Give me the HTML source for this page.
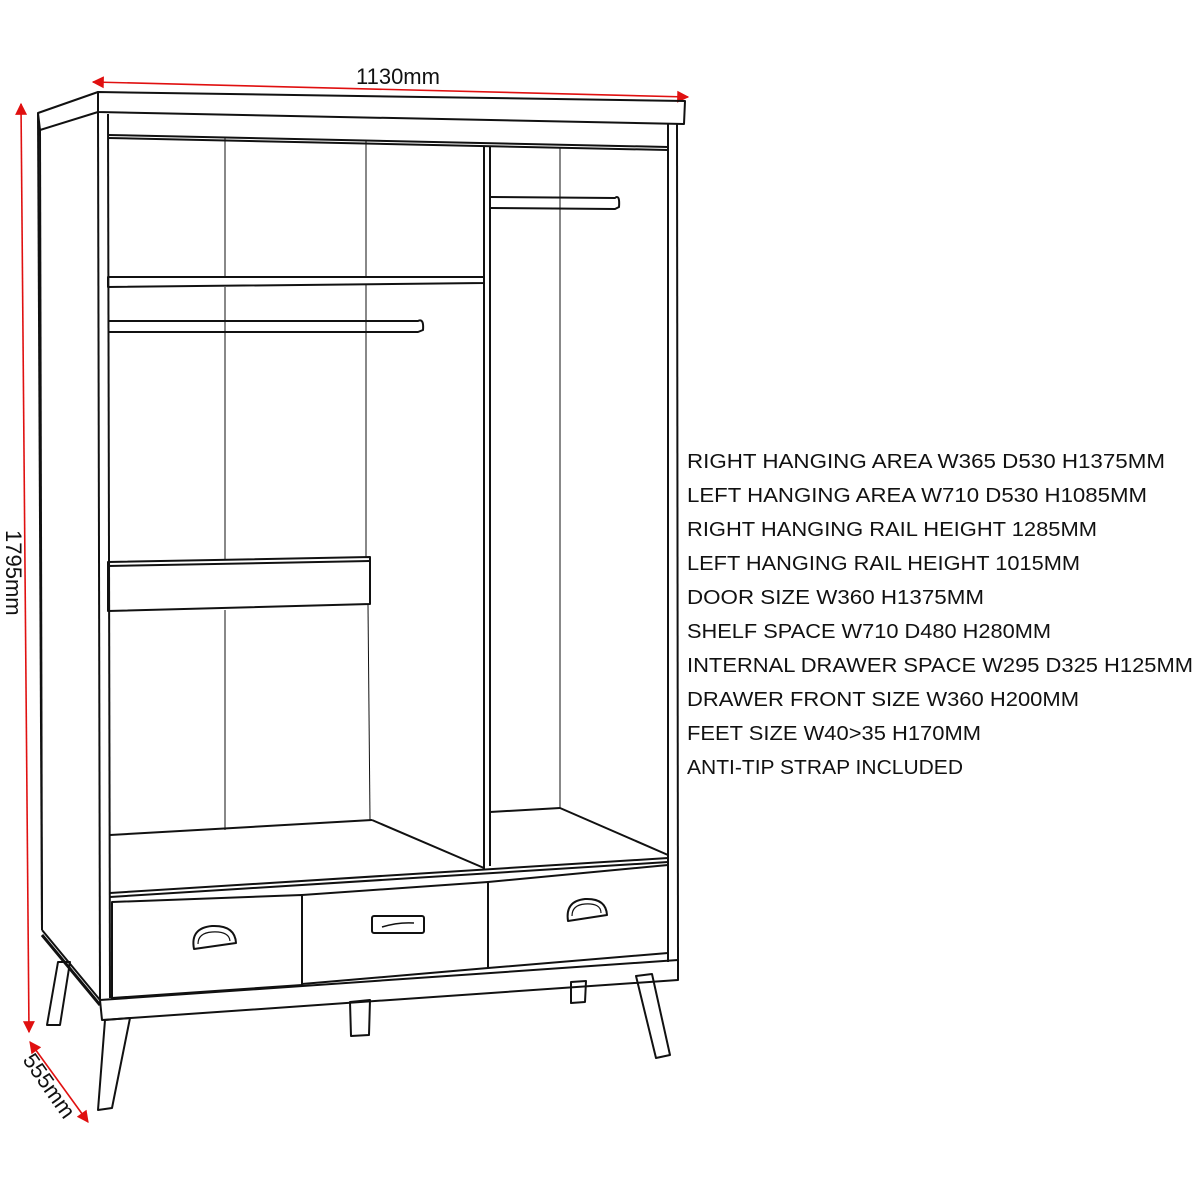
<!DOCTYPE html>
<html><head><style>html,body{margin:0;padding:0;background:#fff;width:1200px;height:1200px;overflow:hidden}</style></head>
<body>
<svg width="1200" height="1200" viewBox="0 0 1200 1200" xmlns="http://www.w3.org/2000/svg">
<defs>
<marker id="ar" viewBox="0 0 10 10" refX="9" refY="5" markerWidth="16" markerHeight="12" orient="auto-start-reverse" markerUnits="userSpaceOnUse"><path d="M0,0 L10,5 L0,10 z" fill="#e01010"/></marker>
</defs>
<g stroke="#e01010" stroke-width="1.6" fill="none">
<line x1="93" y1="82" x2="688" y2="97" marker-start="url(#ar)" marker-end="url(#ar)"/>
<line x1="21" y1="104" x2="29" y2="1032" marker-start="url(#ar)" marker-end="url(#ar)"/>
<line x1="30" y1="1042" x2="88" y2="1122" marker-start="url(#ar)" marker-end="url(#ar)"/>
</g>
<g font-family="Liberation Sans, sans-serif" fill="#111">
<text x="356" y="84" font-size="22">1130mm</text>
<text transform="translate(6,530) rotate(90)" font-size="22">1795mm</text>
<text transform="translate(22,1060) rotate(55)" font-size="22">555mm</text>
</g>
<g stroke="#111" stroke-width="2" fill="none" stroke-linejoin="round">
<polygon points="38,113 98,92 98,112 40,130"/>
<line x1="38" y1="113" x2="42" y2="930"/>
<line x1="40" y1="130" x2="42" y2="930"/>
<line x1="42" y1="930" x2="100" y2="1000"/>
<line x1="42" y1="935" x2="100" y2="1005" stroke-width="3"/>
<polygon points="98,92 685,101 684,124 98,112"/>
<line x1="98" y1="112" x2="100" y2="1000"/>
<line x1="108" y1="114" x2="110" y2="998"/>
<line x1="668" y1="124" x2="668" y2="962"/>
<line x1="677" y1="124" x2="678" y2="960"/>
<line x1="108" y1="135" x2="668" y2="147"/>
<line x1="108" y1="138" x2="668" y2="150"/>
<line x1="484" y1="146" x2="484" y2="870"/>
<line x1="490" y1="146" x2="490" y2="866"/>
<polygon points="108,277 484,277 484,283 108,287"/>
<line x1="225" y1="138" x2="225" y2="278" stroke-width="1"/>
<line x1="366" y1="141" x2="366" y2="278" stroke-width="1"/>
<line x1="225" y1="287" x2="225" y2="560" stroke-width="1"/>
<line x1="366" y1="285" x2="366" y2="558" stroke-width="1"/>
<line x1="225" y1="610" x2="225" y2="830" stroke-width="1"/>
<line x1="368" y1="605" x2="370" y2="820" stroke-width="1"/>
<line x1="560" y1="148" x2="560" y2="808" stroke-width="1"/>
<path d="M108,321 L418,321 Q424,318 423,330 L418,332 L108,332"/>
<path d="M490,197 L615,198 Q620,194 619,207 L615,209 L490,208"/>
<polygon points="108,562 370,557 370,604 108,611"/>
<line x1="108" y1="566" x2="370" y2="561"/>
<line x1="110" y1="835" x2="372" y2="820"/>
<line x1="372" y1="820" x2="484" y2="868"/>
<line x1="490" y1="812" x2="560" y2="808"/>
<line x1="560" y1="808" x2="668" y2="855"/>
<line x1="110" y1="893" x2="668" y2="858"/>
<line x1="110" y1="897" x2="668" y2="862"/>
<polygon points="112,902 302,895 302,985 112,998"/>
<polygon points="302,895 488,882 488,968 302,984"/>
<polygon points="488,882 668,865 668,953 488,968"/>
<polygon points="100,1000 678,960 678,980 102,1020"/>
<polygon points="105,1020 130,1018 112,1108 98,1110"/>
<polygon points="58,962 70,962 60,1025 47,1025"/>
<polygon points="350,1002 370,1000 369,1035 351,1036"/>
<polygon points="571,982 586,981 585,1002 571,1003"/>
<polygon points="636,976 652,974 670,1055 656,1058"/>
<path d="M194,949 Q190,928 212,926 Q235,925 236,943 Z"/>
<path d="M198,944 Q198,933 212,932 Q229,931 230,941" stroke-width="1.2"/>
<path d="M568,921 Q565,901 585,899 Q606,898 607,915 Z"/>
<path d="M572,916 Q572,905 585,904 Q601,903 601,913" stroke-width="1.2"/>
<rect x="372" y="916" width="52" height="17" rx="2"/>
<path d="M382,927 Q398,922 414,923" stroke-width="1.5"/>
</g>
<g font-family="Liberation Sans, sans-serif" font-size="20" fill="#111">
<text x="687" y="468" textLength="478" lengthAdjust="spacingAndGlyphs">RIGHT HANGING AREA W365 D530 H1375MM</text>
<text x="687" y="502" textLength="460" lengthAdjust="spacingAndGlyphs">LEFT HANGING AREA W710 D530 H1085MM</text>
<text x="687" y="536" textLength="410" lengthAdjust="spacingAndGlyphs">RIGHT HANGING RAIL HEIGHT 1285MM</text>
<text x="687" y="570" textLength="393" lengthAdjust="spacingAndGlyphs">LEFT HANGING RAIL HEIGHT 1015MM</text>
<text x="687" y="604" textLength="297" lengthAdjust="spacingAndGlyphs">DOOR SIZE W360 H1375MM</text>
<text x="687" y="638" textLength="364" lengthAdjust="spacingAndGlyphs">SHELF SPACE W710 D480 H280MM</text>
<text x="687" y="672" textLength="506" lengthAdjust="spacingAndGlyphs">INTERNAL DRAWER SPACE W295 D325 H125MM</text>
<text x="687" y="706" textLength="392" lengthAdjust="spacingAndGlyphs">DRAWER FRONT SIZE W360 H200MM</text>
<text x="687" y="740" textLength="294" lengthAdjust="spacingAndGlyphs">FEET SIZE W40&gt;35 H170MM</text>
<text x="687" y="774" textLength="276" lengthAdjust="spacingAndGlyphs">ANTI-TIP STRAP INCLUDED</text>
</g>
</svg>
</body></html>
